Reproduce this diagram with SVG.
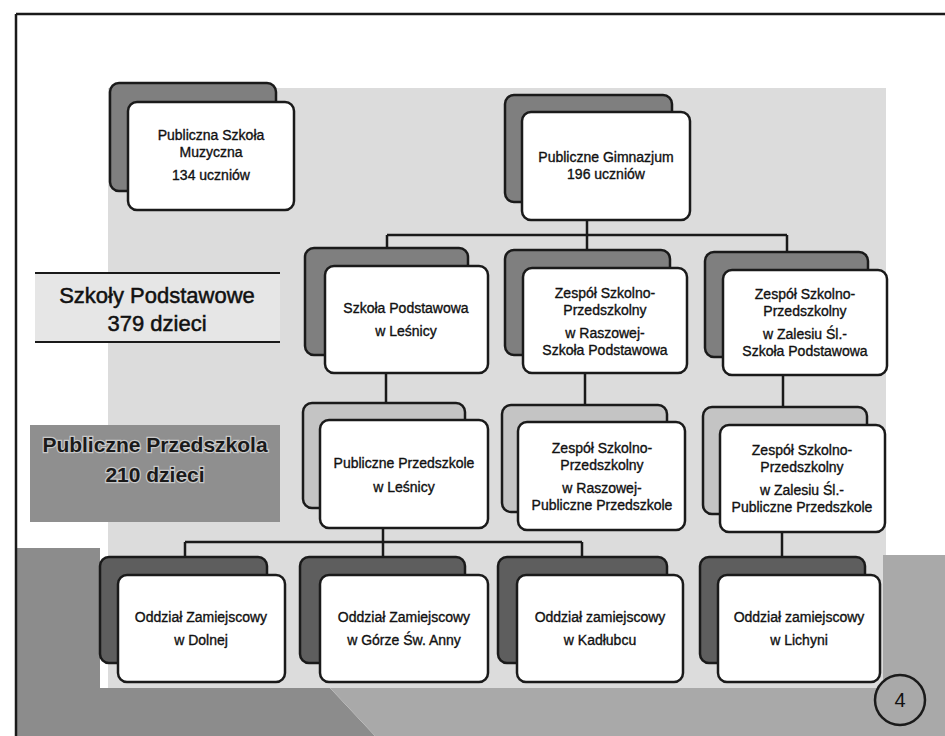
<svg xmlns="http://www.w3.org/2000/svg" width="945" height="736" viewBox="0 0 945 736">
<style>
.front{fill:#ffffff;stroke:#1a1a1a;stroke-width:2.5}
.back1{fill:#7f7f7f;stroke:#1a1a1a;stroke-width:2.5}
.back3{fill:#c4c4c4;stroke:#1a1a1a;stroke-width:2.5}
.back4{fill:#5e5e5e;stroke:#1a1a1a;stroke-width:2.5}
.t{font-family:"Liberation Sans","DejaVu Sans",sans-serif;font-size:14px;fill:#111;stroke:#111;stroke-width:0.35;text-anchor:middle}
.big{font-family:"Liberation Sans","DejaVu Sans",sans-serif;font-size:22px;fill:#111;stroke:#111;stroke-width:0.5;text-anchor:middle}
.big2{font-family:"Liberation Sans","DejaVu Sans",sans-serif;font-size:21px;font-weight:bold;fill:#1a1a1a;stroke:#c8c8c8;stroke-width:2.5;paint-order:stroke;text-anchor:middle}
.conn{fill:none;stroke:#1a1a1a;stroke-width:2.5}
</style>
<rect x="0" y="0" width="945" height="736" fill="#ffffff"/>
<g id="background">
<rect x="108" y="88" width="778" height="600" fill="#dcdcdc"/>
<polygon points="16,548 100,548 100,688 330,688 375,736 16,736" fill="#8c8c8c"/>
<polygon points="330,688 883,688 883,555 945,555 945,736 375,736" fill="#a9a9a9"/>
<line x1="16" y1="14" x2="945" y2="14" stroke="#1a1a1a" stroke-width="2.5"/>
<line x1="16" y1="14" x2="16" y2="736" stroke="#1a1a1a" stroke-width="2.5"/>
</g>
<g id="label-szkoly">
<rect x="35" y="273" width="245" height="69" fill="#e6e6e6"/>
<line x1="35" y1="273" x2="280" y2="273" stroke="#1a1a1a" stroke-width="2"/>
<line x1="35" y1="342" x2="280" y2="342" stroke="#1a1a1a" stroke-width="2"/>
<text class="big" x="157" y="303">Szkoły Podstawowe</text>
<text class="big" x="157" y="331">379 dzieci</text>
</g>
<g id="label-przedszkola">
<rect x="30" y="425" width="250" height="97" fill="#8f8f8f"/>
<text class="big2" x="155" y="452">Publiczne Przedszkola</text>
<text class="big2" x="155" y="482">210 dzieci</text>
</g>
<g id="connectors">
<path class="conn" d="M587,220 V235 M387,235 H787 M387,235 V250 M587,235 V252 M787,235 V254"/>
<path class="conn" d="M386,372 V403"/>
<path class="conn" d="M585,372 V405"/>
<path class="conn" d="M783,374 V407"/>
<path class="conn" d="M383,528 V542 M185,542 H582 M185,542 V557 M582,542 V557 M383,542 V557"/>
<path class="conn" d="M782,532 V557"/>
</g>
<g id="muzyczna">
<rect class="back1" x="110" y="83" width="166" height="108" rx="9"/>
<rect class="front" x="128" y="102" width="166" height="108" rx="9"/>
<text class="t" x="211" y="140">Publiczna Szkoła</text>
<text class="t" x="211" y="157">Muzyczna</text>
<text class="t" x="211" y="180">134 uczniów</text>
</g>
<g id="gimnazjum">
<rect class="back1" x="505" y="95" width="167" height="107" rx="9"/>
<rect class="front" x="522" y="112" width="168" height="108" rx="9"/>
<text class="t" x="606" y="162">Publiczne Gimnazjum</text>
<text class="t" x="606" y="179">196 uczniów</text>
</g>
<g id="sp-lesnica">
<rect class="back1" x="305" y="248" width="163" height="107" rx="9"/>
<rect class="front" x="325" y="266" width="163" height="107" rx="9"/>
<text class="t" x="406" y="313">Szkoła Podstawowa</text>
<text class="t" x="406" y="336">w Leśnicy</text>
</g>
<g id="sp-raszowa">
<rect class="back1" x="505" y="250" width="165" height="105" rx="9"/>
<rect class="front" x="523" y="268" width="164" height="105" rx="9"/>
<text class="t" x="605" y="298">Zespół Szkolno-</text>
<text class="t" x="605" y="315">Przedszkolny</text>
<text class="t" x="605" y="338">w Raszowej-</text>
<text class="t" x="605" y="355">Szkoła Podstawowa</text>
</g>
<g id="sp-zalesie">
<rect class="back1" x="705" y="252" width="163" height="105" rx="9"/>
<rect class="front" x="723" y="270" width="164" height="105" rx="9"/>
<text class="t" x="805" y="299">Zespół Szkolno-</text>
<text class="t" x="805" y="316">Przedszkolny</text>
<text class="t" x="805" y="339">w Zalesiu Śl.-</text>
<text class="t" x="805" y="356">Szkoła Podstawowa</text>
</g>
<g id="pp-lesnica">
<rect class="back3" x="303" y="403" width="162" height="105" rx="9"/>
<rect class="front" x="320" y="420" width="168" height="108" rx="9"/>
<text class="t" x="404" y="468">Publiczne Przedszkole</text>
<text class="t" x="404" y="492">w Leśnicy</text>
</g>
<g id="pp-raszowa">
<rect class="back3" x="502" y="405" width="165" height="107" rx="9"/>
<rect class="front" x="518" y="422" width="167" height="108" rx="9"/>
<text class="t" x="602" y="453">Zespół Szkolno-</text>
<text class="t" x="602" y="470">Przedszkolny</text>
<text class="t" x="602" y="493">w Raszowej-</text>
<text class="t" x="602" y="510">Publiczne Przedszkole</text>
</g>
<g id="pp-zalesie">
<rect class="back3" x="703" y="407" width="164" height="107" rx="9"/>
<rect class="front" x="720" y="425" width="165" height="107" rx="9"/>
<text class="t" x="802" y="455">Zespół Szkolno-</text>
<text class="t" x="802" y="472">Przedszkolny</text>
<text class="t" x="802" y="495">w Zalesiu Śl.-</text>
<text class="t" x="802" y="512">Publiczne Przedszkole</text>
</g>
<g id="oz-dolna">
<rect class="back4" x="100" y="557" width="167" height="106" rx="9"/>
<rect class="front" x="118" y="575" width="167" height="107" rx="9"/>
<text class="t" x="201" y="622">Oddział Zamiejscowy</text>
<text class="t" x="201" y="645">w Dolnej</text>
</g>
<g id="oz-gora">
<rect class="back4" x="300" y="557" width="165" height="106" rx="9"/>
<rect class="front" x="320" y="575" width="168" height="107" rx="9"/>
<text class="t" x="404" y="622">Oddział Zamiejscowy</text>
<text class="t" x="404" y="645">w Górze Św. Anny</text>
</g>
<g id="oz-kadlubiec">
<rect class="back4" x="498" y="557" width="169" height="106" rx="9"/>
<rect class="front" x="517" y="575" width="166" height="107" rx="9"/>
<text class="t" x="600" y="622">Oddział zamiejscowy</text>
<text class="t" x="600" y="645">w Kadłubcu</text>
</g>
<g id="oz-lichynia">
<rect class="back4" x="700" y="557" width="165" height="106" rx="9"/>
<rect class="front" x="718" y="575" width="162" height="107" rx="9"/>
<text class="t" x="799" y="622">Oddział zamiejscowy</text>
<text class="t" x="799" y="645">w Lichyni</text>
</g>
<g id="page-number">
<circle cx="900" cy="700" r="25" fill="#a9a9a9" stroke="#1a1a1a" stroke-width="2.5"/>
<text x="900" y="707" style="font-family:'Liberation Sans',sans-serif;font-size:20px;fill:#111;text-anchor:middle">4</text>
</g>
</svg>
